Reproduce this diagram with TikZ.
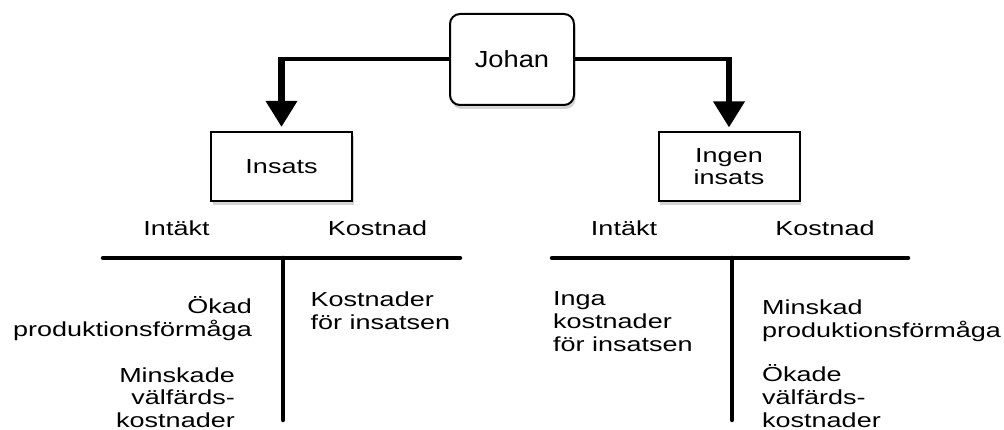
\documentclass[tikz,border=0pt]{standalone}
\usepackage{fontspec}
\setmainfont{Liberation Sans}
\newfontfamily\labfont{Liberation Sans}[FakeStretch=1.33]
\newfontfamily\johanfont{Liberation Sans}[FakeStretch=1.17]
\usetikzlibrary{arrows.meta,shadows}
\begin{document}
\begin{tikzpicture}[x=1pt,y=1pt,
  box/.style={draw=black, line width=2pt, fill=white, inner sep=0pt, align=center,
    font=\labfont\fontsize{20.3}{22}\selectfont,
    drop shadow={shadow xshift=1.5pt, shadow yshift=-4pt, opacity=0.35}},
  lbl/.style={inner sep=0pt, font=\labfont\fontsize{20.3}{22.8}\selectfont},
  harm/.style={line width=4pt},
  varm/.style={line width=6.5pt, -{Triangle[length=26pt,width=30pt]}},
  tline/.style={line width=4.5pt, line cap=round}]
\useasboundingbox (0,0) rectangle (1004,-430);

% boxes
\node[box, rounded corners=10pt, minimum width=124pt, minimum height=91pt,
  font=\johanfont\fontsize{23.3}{26}\selectfont] (johan) at (512,-59.5) {Johan};
\node[box, minimum width=141pt, minimum height=69pt] (insats) at (281.5,-166.5) {Insats};
\node[box, minimum width=141pt, minimum height=69pt] (ingen) at (729,-167) {Ingen\\insats};

% arrows
\coordinate (cL) at (johan.west -| insats.north);
\coordinate (cR) at (johan.east -| ingen.north);
\draw[harm] (johan.west) -- ([xshift=-3.25pt]cL);
\draw[varm] ([yshift=2pt]cL) -- ([yshift=4pt]insats.north);
\draw[harm] (johan.east) -- ([xshift=3.25pt]cR);
\draw[varm] ([yshift=2pt]cR) -- ([yshift=4pt]ingen.north);

% left T account
\coordinate (lL) at (103,-258);
\coordinate (lR) at (460,-258);
\coordinate (lT) at (283,-258);
\coordinate (lB) at (283,-420);
\draw[tline] (lL) -- (lR);
\draw[tline] (lT) -- (lB);
\node[lbl, anchor=base] (in1) at (176.5,-236) {Intäkt};
\node[lbl, anchor=base] (ko1) at (377.5,-236) {Kostnad};
\node[lbl, anchor=base east, align=right] (a1) at (252,-336.8) {Ökad\\produktionsförmåga};
\node[lbl, anchor=base east, align=right] (a2) at (235,-427.6) {Minskade\\välfärds-\\kostnader};
\node[lbl, anchor=base west, align=left] (b1) at (310.5,-329.3) {Kostnader\\för insatsen};

% right T account
\coordinate (rL) at (552,-258);
\coordinate (rR) at (908,-258);
\coordinate (rT) at (732,-258);
\coordinate (rB) at (732,-420);
\draw[tline] (rL) -- (rR);
\draw[tline] (rT) -- (rB);
\node[lbl, anchor=base] (in2) at (624,-236) {Intäkt};
\node[lbl, anchor=base] (ko2) at (825,-236) {Kostnad};
\node[lbl, anchor=base west, align=left] (c1) at (553,-351.1) {Inga\\kostnader\\för insatsen};
\node[lbl, anchor=base west, align=left] (d1) at (762,-337.1) {Minskad\\produktionsförmåga};
\node[lbl, anchor=base west, align=left] (d2) at (762,-427.3) {Ökade\\välfärds-\\kostnader};
\end{tikzpicture}
\end{document}
